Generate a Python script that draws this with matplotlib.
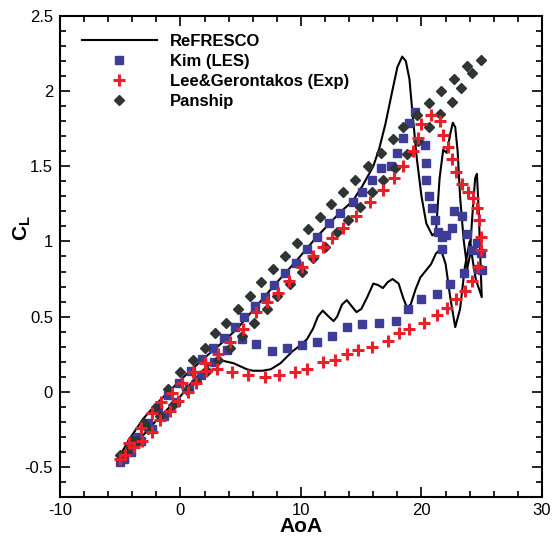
import matplotlib
matplotlib.use("Agg")
import matplotlib.pyplot as plt
from matplotlib.ticker import MultipleLocator

plt.rcParams['font.family'] = ['Liberation Sans', 'DejaVu Sans']
plt.rcParams['mathtext.fontset'] = 'custom'
plt.rcParams['mathtext.rm'] = 'Liberation Sans'
plt.rcParams['mathtext.bf'] = 'Liberation Sans:bold'

# ReFRESCO (CFD line)
refresco_aoa = [-5.0, -4.2, -3.1, -2.0, -0.6, 0.8, 2.2, 3.5, 4.7, 6.2, 7.8, 9.6, 11.3, 13.2, 14.3,
                15.1, 16.0, 16.5, 17.0, 17.6, 18.0, 18.4, 18.7, 19.0, 19.2, 19.6, 20.0, 20.4, 20.9,
                21.2, 21.5, 21.8, 22.1, 22.4, 22.6, 22.8, 23.0, 23.2, 23.5, 23.8, 24.0, 24.2, 24.45,
                24.6, 24.75, 24.9, 25.0, 24.5, 24.0, 23.6, 23.2, 22.8, 22.4, 22.0, 21.6, 21.2, 20.8,
                20.3, 19.9, 19.5, 19.1, 18.8, 18.5, 18.1, 17.6, 17.2, 16.8, 16.4, 16.0, 15.5, 15.0,
                14.6, 14.2, 13.8, 13.4, 13.0, 12.7, 12.3, 11.8, 11.4, 11.0, 10.5, 9.8, 9.3, 8.3, 7.5,
                6.8, 6.0, 5.5, 4.4, 3.3, 2.5, 1.7, 0.8, 0.0, -1.0, -2.0, -3.0, -4.0, -4.6, -5.0]
refresco_cl = [-0.42, -0.31, -0.18, -0.08, 0.03, 0.14, 0.24, 0.33, 0.42, 0.56, 0.71, 0.87, 1.03, 1.19, 1.27,
               1.37, 1.50, 1.62, 1.78, 2.01, 2.16, 2.23, 2.20, 2.08, 1.90, 1.56, 1.30, 1.12, 1.04,
               1.06, 1.42, 1.61, 1.59, 1.72, 1.79, 1.76, 1.60, 1.30, 1.01, 0.82, 0.90, 1.15, 1.42,
               1.45, 1.20, 0.85, 0.63, 0.75, 1.00, 0.83, 0.55, 0.43, 0.62, 0.85, 0.95, 0.92, 0.85,
               0.80, 0.76, 0.68, 0.58, 0.56, 0.62, 0.72, 0.75, 0.73, 0.69, 0.71, 0.72, 0.63, 0.55,
               0.53, 0.57, 0.61, 0.58, 0.50, 0.47, 0.50, 0.54, 0.50, 0.42, 0.35, 0.30, 0.27, 0.19, 0.15,
               0.14, 0.14, 0.15, 0.19, 0.21, 0.19, 0.13, 0.05, -0.03, -0.11, -0.19, -0.28, -0.37, -0.42, -0.44]

# Kim (LES)
kim_aoa = [-5.0, -4.7, -4.2, -3.5, -2.7, -1.9, -1.0, -0.1, 0.9, 1.8, 2.7, 3.6, 4.5, 5.3, 6.2, 7.0, 7.8,
           8.7, 9.6, 10.5, 11.3, 12.3, 13.2, 14.3, 15.1, 15.9, 16.6, 17.5, 18.0, 18.5, 19.0, 19.5,
           20.3, 20.4, 20.4, 20.6, 20.9, 21.1, 21.4, 21.7, 22.0, 22.5, 22.7, 23.4, 23.8, 24.2, 24.6,
           24.9, 25.0, 24.7, 23.5, 22.4, 21.7, 21.3, 20.0, 18.9, 17.9, 16.5, 15.1, 13.8, 12.6, 11.3,
           10.1, 8.8, 7.6, 6.3, 5.1, 3.9, 2.8, 1.7, 0.7, -0.4, -1.4, -2.4, -3.3, -4.1, -4.7]
kim_cl = [-0.47, -0.44, -0.38, -0.30, -0.21, -0.11, -0.02, 0.06, 0.14, 0.22, 0.29, 0.36, 0.43, 0.50, 0.57,
          0.63, 0.71, 0.79, 0.86, 0.95, 1.03, 1.12, 1.19, 1.26, 1.33, 1.41, 1.49, 1.50, 1.59, 1.69, 1.79,
          1.86, 1.64, 1.52, 1.41, 1.30, 1.22, 1.14, 1.06, 1.03, 1.04, 1.09, 1.20, 1.17, 1.05, 0.94, 0.99,
          0.92, 0.81, 0.82, 0.79, 0.72, 0.95, 0.65, 0.62, 0.55, 0.47, 0.46, 0.45, 0.43, 0.37, 0.33,
          0.31, 0.29, 0.27, 0.32, 0.35, 0.28, 0.20, 0.11, 0.02, -0.07, -0.16, -0.25, -0.33, -0.40, -0.45]

# Lee & Gerontakos (Exp)
lee_aoa = [-5.0, -4.3, -3.3, -2.4, -1.6, -0.7, 0.1, 1.0, 2.0, 3.1, 4.1, 5.2, 6.3, 7.2, 8.1, 9.0, 10.1,
           11.0, 11.8, 12.6, 13.5, 14.6, 15.7, 16.8, 17.7, 18.5, 19.3, 19.7, 20.0, 20.8, 21.5, 21.8,
           22.2, 22.5, 22.9, 23.4, 23.9, 24.3, 24.6, 24.8, 24.9, 24.9, 24.7, 24.2, 23.6, 22.9, 22.1,
           21.3, 20.2, 19.0, 18.1, 17.2, 15.9, 14.7, 13.8, 12.8, 11.8, 10.5, 9.5, 8.2, 7.0, 5.6, 4.3,
           3.0, 2.1, 1.3, 0.6, -0.2, -0.9, -1.7, -2.4, -3.2, -3.9, -4.6]
lee_cl = [-0.45, -0.34, -0.24, -0.14, -0.07, -0.01, 0.06, 0.13, 0.19, 0.25, 0.33, 0.42, 0.53, 0.60, 0.66,
          0.74, 0.83, 0.90, 0.96, 1.02, 1.09, 1.17, 1.26, 1.34, 1.42, 1.50, 1.60, 1.69, 1.78, 1.84, 1.80,
          1.71, 1.63, 1.55, 1.46, 1.38, 1.33, 1.29, 1.22, 1.14, 1.03, 0.94, 0.83, 0.74, 0.67, 0.62, 0.56,
          0.51, 0.46, 0.42, 0.39, 0.34, 0.30, 0.28, 0.25, 0.21, 0.20, 0.15, 0.13, 0.11, 0.10, 0.11, 0.13,
          0.15, 0.14, 0.06, 0.00, -0.06, -0.13, -0.19, -0.27, -0.33, -0.37, -0.42]

# Panship
pan_aoa = [-5.0, -4.0, -3.0, -2.0, -1.0, 0.0, 1.0, 2.0, 2.9, 3.8, 4.8, 5.8, 6.7, 7.7, 8.7, 9.7, 10.6,
           11.6, 12.5, 13.5, 14.5, 15.6, 16.6, 17.6, 18.5, 19.6, 20.6, 21.6, 22.7, 23.8, 24.9,
           24.2, 23.3, 22.5, 21.5, 20.6, 19.7, 18.8, 17.8, 16.8, 15.9, 14.9, 13.9, 13.0, 12.0, 11.0,
           10.1, 9.1, 8.0, 7.2, 6.1, 5.1, 4.1, 3.1, 2.2, 1.3, 0.5, -0.6, -1.7, -2.7, -3.6, -4.4]
pan_cl = [-0.42, -0.32, -0.21, -0.10, 0.02, 0.13, 0.21, 0.29, 0.39, 0.46, 0.55, 0.64, 0.73, 0.82, 0.90,
          0.99, 1.08, 1.16, 1.25, 1.33, 1.41, 1.50, 1.59, 1.68, 1.76, 1.84, 1.92, 2.00, 2.08, 2.17, 2.21,
          2.12, 2.02, 1.93, 1.85, 1.76, 1.67, 1.58, 1.49, 1.41, 1.33, 1.23, 1.14, 1.06, 0.96, 0.89,
          0.80, 0.72, 0.64, 0.55, 0.46, 0.37, 0.29, 0.21, 0.14, 0.07, 0.01, -0.09, -0.16, -0.25, -0.33, -0.40]

labels = ['ReFRESCO', 'Kim (LES)', 'Lee&Gerontakos (Exp)', 'Panship']

fig = plt.figure(figsize=(5.53, 5.37), dpi=100)
ax = fig.add_axes([0.1085, 0.0745, 0.8716, 0.8957])

ax.plot(refresco_aoa, refresco_cl, color='black', lw=1.5, label=labels[0], zorder=3)
ax.plot(kim_aoa, kim_cl, ls='none', marker='s', ms=5.3, color='#3d3d99', mec='#3d3d99',
        label=labels[1], zorder=4)
ax.plot(lee_aoa, lee_cl, ls='none', marker='+', ms=8, mew=2.2, color='#e8202a',
        label=labels[2], zorder=5)
ax.plot(pan_aoa, pan_cl, ls='none', marker='D', ms=5, color='#2f3434', mec='#2f3434',
        label=labels[3], zorder=4)

ax.set_xlim(-10, 30)
ax.set_ylim(-0.7, 2.5)
ax.xaxis.set_major_locator(MultipleLocator(10))
ax.xaxis.set_minor_locator(MultipleLocator(2))
ax.yaxis.set_major_locator(MultipleLocator(0.5))
ax.yaxis.set_minor_locator(MultipleLocator(0.1))
ax.tick_params(which='both', direction='in', top=True, right=True, labelsize=12, width=1.2)
ax.tick_params(which='major', length=7)
ax.tick_params(which='minor', length=4)
ax.tick_params(axis='x', pad=4)
ax.tick_params(axis='y', pad=5)
ax.set_xticks([-10, 0, 10, 20, 30])
ax.set_xticklabels(['-10', '0', '10', '20', '30'])
ax.set_yticks([-0.5, 0, 0.5, 1, 1.5, 2, 2.5])
ax.set_yticklabels(['-0.5', '0', '0.5', '1', '1.5', '2', '2.5'])
for s in ax.spines.values():
    s.set_linewidth(1.5)

ax.set_xlabel('AoA', fontsize=15, fontweight='bold')
ax.xaxis.set_label_coords(0.5, -0.041)
ax.set_ylabel(r'$\mathbf{C_L}$', fontsize=15)
ax.yaxis.set_label_coords(-0.056, 0.56)

leg = ax.legend(loc='upper left', bbox_to_anchor=(0.045, 0.962), frameon=False, numpoints=1,
                handlelength=4.5, handletextpad=0.8, labelspacing=0.3, borderpad=0, borderaxespad=0,
                prop={'size': 12, 'weight': 'bold'})

fig.savefig('out.png', dpi=100)
